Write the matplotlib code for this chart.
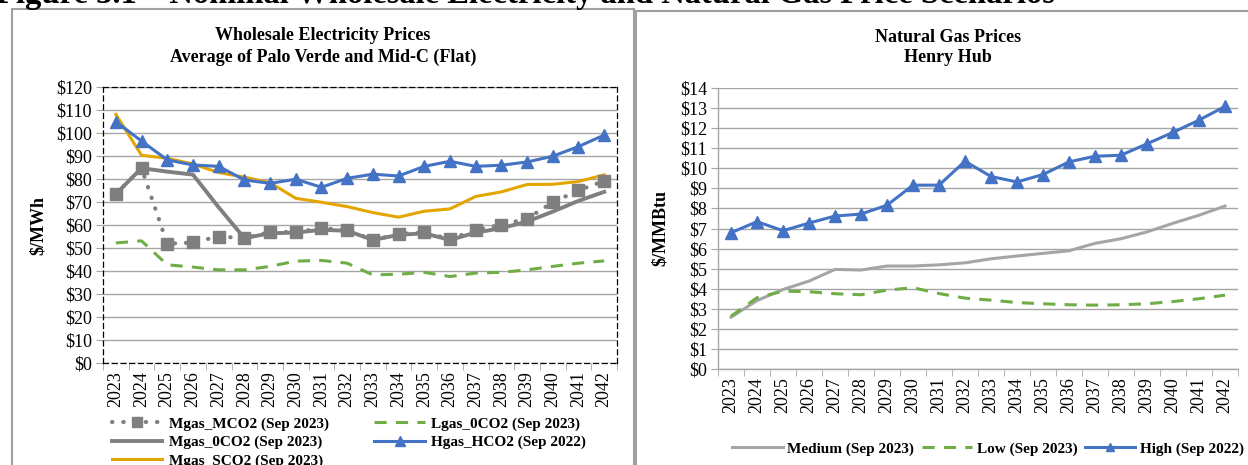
import matplotlib
matplotlib.use("Agg")
import matplotlib.pyplot as plt
import numpy as np
from matplotlib.patches import Rectangle
from matplotlib.ticker import FuncFormatter, MultipleLocator, FixedLocator

plt.rcParams['font.family'] = ['Liberation Serif', 'DejaVu Serif']

# ---- data ----
years = [str(y) for y in range(2023, 2043)]

# wholesale electricity, $/MWh
mgas_mco2 = [73.5, 84.7, 51.8, 52.4, 55.0, 54.3, 56.9, 57.0, 58.5, 57.9,
             53.5, 56.0, 56.9, 53.8, 57.9, 60.1, 62.7, 69.9, 75.0, 79.2]
lgas_0co2 = [52.2, 53.1, 42.7, 41.7, 40.5, 40.5, 42.0, 44.3, 44.6, 43.4,
             38.3, 38.6, 39.4, 37.6, 39.1, 39.4, 40.5, 42.0, 43.4, 44.4]
mgas_0co2 = [73.5, 84.7, 83.2, 81.9, 67.7, 54.3, 56.4, 56.7, 57.9, 57.5,
             53.5, 55.7, 56.4, 53.5, 56.7, 58.6, 61.5, 65.8, 70.5, 74.4]
hgas_hco2 = [104.9, 96.5, 88.3, 86.1, 85.5, 79.6, 78.1, 79.9, 76.4, 80.3,
             82.1, 81.3, 85.5, 87.7, 85.5, 86.0, 87.4, 89.9, 94.1, 99.1]
mgas_sco2 = [108.1, 90.3, 89.0, 86.5, 82.8, 80.8, 78.4, 71.6, 69.9, 68.0,
             65.4, 63.4, 66.0, 67.0, 72.4, 74.4, 77.6, 77.7, 78.9, 81.8]

# Henry Hub gas, $/MMBtu
gas_medium = [2.58, 3.41, 3.96, 4.38, 4.96, 4.93, 5.13, 5.13, 5.19, 5.29,
              5.49, 5.63, 5.76, 5.89, 6.26, 6.49, 6.83, 7.26, 7.66, 8.12]
gas_low = [2.63, 3.55, 3.88, 3.85, 3.75, 3.70, 3.93, 4.05, 3.76, 3.53,
           3.43, 3.31, 3.25, 3.20, 3.18, 3.20, 3.25, 3.36, 3.50, 3.68]
gas_high = [6.79, 7.34, 6.89, 7.27, 7.62, 7.72, 8.16, 9.16, 9.16, 10.35,
            9.59, 9.32, 9.69, 10.32, 10.60, 10.65, 11.22, 11.79, 12.40, 13.08]

BLUE = '#4472C4'
GOLD = '#E3A600'
DGRAY = '#7F7F7F'
LGRAY = '#A5A5A5'
GREEN = '#70AD47'
GRID = '#A6A6A6'

W, H = 1248, 465
fig = plt.figure(figsize=(W / 100, H / 100), dpi=100)


def box(x0, y0, x1, y1):
    # pixel box (top-left origin) -> figure fraction
    return [x0 / W, 1 - y1 / H, (x1 - x0) / W, (y1 - y0) / H]


# panel frames
for (x0, y0, x1, y1) in [(12, 9, 634, 480), (636, 11, 1260, 480)]:
    fig.add_artist(Rectangle((x0 / W, 1 - y1 / H), (x1 - x0) / W, (y1 - y0) / H,
                             transform=fig.transFigure, fill=False,
                             edgecolor='#A0A0A0', lw=1.5, clip_on=False))

fig.text(-0.003, 1 - 3 / H,
         "Figure 3.1 \u2013 Nominal Wholesale Electricity and Natural Gas Price Scenarios",
         fontsize=23.5, fontweight='bold', va='baseline', ha='left')


def style_axis(ax, ymax, ystep, fmt):
    ax.set_xlim(-0.5, len(years) - 0.5)
    ax.set_ylim(0, ymax)
    ax.yaxis.set_major_locator(MultipleLocator(ystep))
    ax.yaxis.set_major_formatter(FuncFormatter(fmt))
    ax.grid(axis='y', color=GRID, lw=1.0)
    ax.set_axisbelow(True)
    ax.set_xticks(range(len(years)))
    ax.set_xticklabels(years, rotation=90)
    ax.xaxis.set_minor_locator(FixedLocator(np.arange(-0.5, len(years), 1.0)))
    ax.tick_params(axis='x', which='major', length=0, pad=6, labelsize=13)
    ax.tick_params(axis='x', which='minor', length=5, color=GRID, direction='out')
    ax.tick_params(axis='y', length=5, color=GRID, labelsize=13, pad=3)


legend_font = {'weight': 'bold', 'size': 11}

# ---------- left: wholesale electricity ----------
ax1 = fig.add_axes(box(103, 87, 617, 363))
style_axis(ax1, 120, 10, lambda v, p: f"${v:.0f}")
for s in ax1.spines.values():
    s.set_linestyle((0, (4, 3)))
    s.set_color('black')
    s.set_linewidth(0.9)

l1, = ax1.plot(years, mgas_mco2, color=DGRAY, lw=3, ls=(0, (0.1, 2.6)),
               dash_capstyle='round', marker='s', ms=8, zorder=3,
               label='Mgas_MCO2 (Sep 2023)')
l2, = ax1.plot(years, lgas_0co2, color=GREEN, lw=2.2, ls=(0, (4, 3)),
               label='Lgas_0CO2 (Sep 2023)')
l3, = ax1.plot(years, mgas_0co2, color=DGRAY, lw=2.8,
               label='Mgas_0CO2 (Sep 2023)')
l4, = ax1.plot(years, hgas_hco2, color=BLUE, lw=2.2, marker='^', ms=8,
               zorder=4, label='Hgas_HCO2 (Sep 2022)')
l5, = ax1.plot(years, mgas_sco2, color=GOLD, lw=2.2,
               label='Mgas_SCO2 (Sep 2023)')

fig.text(38 / W, 1 - 225 / H, "$/MWh", rotation=90, fontsize=13,
         fontweight='bold', ha='center', va='center')
fig.text(323 / W, 1 - 35 / H, "Wholesale Electricity Prices", fontsize=13,
         fontweight='bold', ha='center', va='center')
fig.text(323 / W, 1 - 57 / H, "Average of Palo Verde and Mid-C (Flat)",
         fontsize=13, fontweight='bold', ha='center', va='center')

fig.legend(handles=[l1, l3, l5, l2, l4], ncol=2, loc='upper left',
           bbox_to_anchor=(112 / W, 1 - 417 / H), frameon=False,
           prop=legend_font, handlelength=3.3, markerscale=0.85,
           handletextpad=0.4, columnspacing=3.0, labelspacing=0.3,
           borderaxespad=0, borderpad=0)

# ---------- right: Henry Hub ----------
ax2 = fig.add_axes(box(718, 88, 1238, 369))
style_axis(ax2, 14, 1, lambda v, p: f"${v:.0f}")
for k in ['top', 'right']:
    ax2.spines[k].set_visible(False)
for k in ['left', 'bottom']:
    ax2.spines[k].set_color(GRID)
    ax2.spines[k].set_linewidth(1.0)

r1, = ax2.plot(years, gas_medium, color=LGRAY, lw=2.2, label='Medium (Sep 2023)')
r2, = ax2.plot(years, gas_low, color=GREEN, lw=2.2, ls=(0, (4, 3)),
               label='Low (Sep 2023)')
r3, = ax2.plot(years, gas_high, color=BLUE, lw=2.2, marker='^', ms=8,
               label='High (Sep 2022)')

fig.text(660 / W, 1 - 228 / H, "$/MMBtu", rotation=90, fontsize=13,
         fontweight='bold', ha='center', va='center')
fig.text(948 / W, 1 - 37 / H, "Natural Gas Prices", fontsize=13,
         fontweight='bold', ha='center', va='center')
fig.text(948 / W, 1 - 57 / H, "Henry Hub", fontsize=13,
         fontweight='bold', ha='center', va='center')

fig.legend(handles=[r1, r2, r3], ncol=3, loc='center',
           bbox_to_anchor=(988 / W, 1 - 449 / H), frameon=False,
           prop=legend_font, handlelength=3.3, markerscale=0.75,
           handletextpad=0.3, columnspacing=0.5,
           borderaxespad=0, borderpad=0)

fig.savefig("out.png", dpi=100)
